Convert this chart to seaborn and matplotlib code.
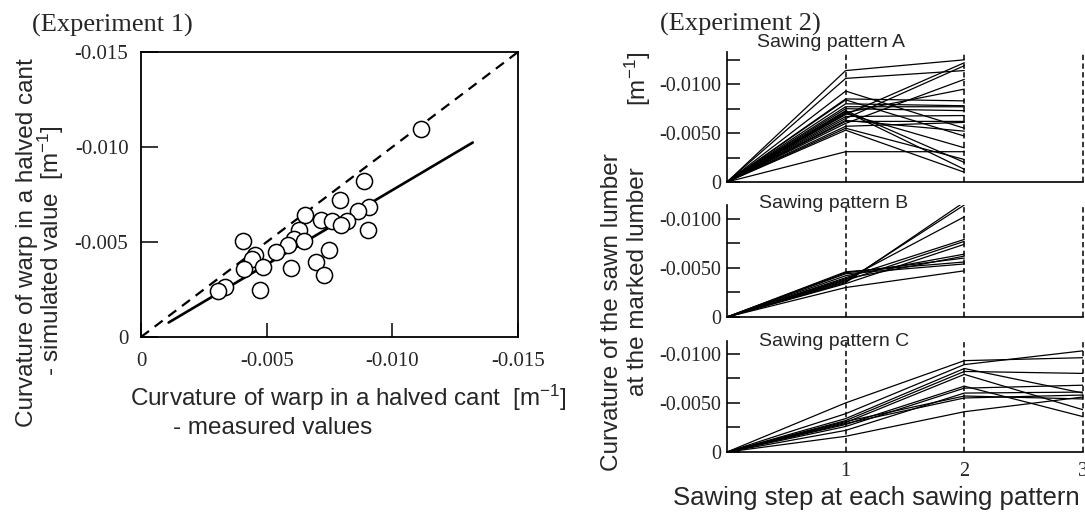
import numpy as np
import pandas as pd
import matplotlib
matplotlib.use("Agg")
import matplotlib.pyplot as plt
import seaborn as sns
from matplotlib.ticker import FixedLocator, FixedFormatter, NullFormatter

# ---------------- Experiment 1 data ----------------
measured = [-0.01116, -0.00889, -0.00791, -0.00906, -0.00862, -0.00653, -0.00717,
            -0.00761, -0.00819, -0.00794, -0.00902, -0.00630, -0.00607, -0.00647,
            -0.00585, -0.00406, -0.00536, -0.00749, -0.00454, -0.00442, -0.00698,
            -0.00486, -0.00595, -0.00409, -0.00727, -0.00335, -0.00306, -0.00472]
simulated = [-0.01096, -0.00819, -0.00721, -0.00686, -0.00663, -0.00642, -0.00616,
             -0.00611, -0.00611, -0.00588, -0.00562, -0.00563, -0.00514, -0.00505,
             -0.00486, -0.00505, -0.00449, -0.00456, -0.00430, -0.00409, -0.00396,
             -0.00370, -0.00365, -0.00356, -0.00326, -0.00265, -0.00242, -0.00246]
fit_slope = 0.783
fit_intercept = 0.0001
fit_x_ends = [-0.0011, -0.0132]
one_to_one = [0.0, -0.015]
exp1_ticks = [0, -0.005, -0.010, -0.015]
exp1_ticklabels = ["0", "-0.005", "-0.010", "-0.015"]

# ---------------- Experiment 2 data ----------------
A_step1 = [-0.0114, -0.0106, -0.0093, -0.0085, -0.0084, -0.0080, -0.0077, -0.0075,
           -0.0073, -0.0071, -0.0069, -0.0067, -0.0063, -0.0060, -0.0057, -0.0055,
           -0.0053, -0.0031, -0.0070, -0.0065, -0.0062, -0.0072]
A_step2 = [-0.0125, -0.0114, -0.0055, -0.0083, -0.0047, -0.0078, -0.0077, -0.0073,
           -0.0020, -0.0095, -0.0122, -0.0068, -0.0052, -0.0105, -0.0061, -0.0023,
           -0.0010, -0.0031, -0.0035, -0.0119, -0.0062, -0.0013]
B_step1 = [-0.0030, -0.0035, -0.0036, -0.0038, -0.0040, -0.0037, -0.0044, -0.0046,
           -0.0042, -0.0039, -0.0045, -0.0034]
B_step2 = [-0.0047, -0.0117, -0.0114, -0.0102, -0.0079, -0.0077, -0.0054, -0.0056,
           -0.0064, -0.0062, -0.0060, -0.0074]
C_step1 = [-0.0050, -0.0039, -0.0034, -0.0032, -0.0030, -0.0028, -0.0026, -0.0022,
           -0.0016, -0.0031, -0.0029]
C_step2 = [-0.0093, -0.0089, -0.0085, -0.0082, -0.0079, -0.0067, -0.0065, -0.0060,
           -0.0041, -0.0057, -0.0055]
C_step3 = [-0.0096, -0.0103, -0.0060, -0.0080, -0.0043, -0.0036, -0.0068, -0.0061,
           -0.0056, -0.0054, -0.0058]
pattern_names = ["Sawing pattern A", "Sawing pattern B", "Sawing pattern C"]
exp2_major = [0, -0.005, -0.010]
exp2_majorlabels = ["0", "-0.0050", "-0.0100"]
exp2_minor = [-0.0025, -0.0075, -0.0125]
exp2_ylims = [-0.0133, -0.0114, -0.0113]
step_ticks = [1, 2, 3]
step_labels = ["1", "2", "3"]

# ---------------- style ----------------
sns.set_style("ticks")
plt.rcParams["font.family"] = ["Liberation Serif", "DejaVu Serif"]
plt.rcParams["axes.unicode_minus"] = False
plt.rcParams["mathtext.fontset"] = "custom"
plt.rcParams["mathtext.rm"] = "Liberation Sans"
plt.rcParams["mathtext.it"] = "Liberation Serif:italic"
plt.rcParams["mathtext.default"] = "regular"

W, H = 1085, 513
fig = plt.figure(figsize=(W / 100, H / 100), dpi=100)
fig.patch.set_facecolor("white")


def rect(l, t, r, b):
    return [l / W, 1 - b / H, (r - l) / W, (b - t) / H]


def fx(px):
    return px / W


def fy(py):
    return 1 - py / H


SANS = "Liberation Sans"
LAB = 17.5

# ---------------- Experiment 1 ----------------
ax = fig.add_axes(rect(141, 52, 518, 337))
ax.set_facecolor("white")
ax.set_xlim(0, -0.015)
ax.set_ylim(0, -0.015)

sns.lineplot(x=one_to_one, y=one_to_one, ax=ax, color="black", lw=1.6,
             linestyle=(0, (4.5, 3.2)), sort=False, clip_on=False)
fit_x = np.array(fit_x_ends)
fit_y = fit_slope * fit_x + fit_intercept
sns.lineplot(x=fit_x, y=fit_y, ax=ax, color="black", lw=1.9, sort=False)
sns.scatterplot(x=measured, y=simulated, ax=ax, s=135, marker="o",
                facecolor="white", edgecolor="black", linewidth=1.1, zorder=5)

ax.xaxis.set_major_locator(FixedLocator(exp1_ticks))
ax.xaxis.set_major_formatter(FixedFormatter(exp1_ticklabels))
ax.yaxis.set_major_locator(FixedLocator(exp1_ticks))
ax.yaxis.set_major_formatter(FixedFormatter(exp1_ticklabels))
ax.tick_params(axis="x", direction="in", length=10, width=1.1, pad=11,
               labelsize=15, color="black")
ax.tick_params(axis="y", direction="in", length=12, width=1.1, pad=9,
               labelsize=15, color="black")
for sp in ax.spines.values():
    sp.set_visible(True)
    sp.set_color("black")
    sp.set_linewidth(1.3)
ax.set_xlabel("")
ax.set_ylabel("")

ax.text(0.0101, -0.0066, r"$\mathit{r}$ = 0.82$^{**}$", fontsize=16,
        ha="left", va="center", family="Liberation Serif")

fig.text(fx(32), fy(25), "(Experiment 1)", fontsize=19, ha="left",
         va="center", family="Liberation Serif")
fig.text(fx(130), fy(398), "Curvature of warp in a halved cant  [m$^{-1}$]",
         fontsize=LAB, ha="left", va="center", family=SANS)
fig.text(fx(173), fy(428), "- measured values", fontsize=LAB, ha="left",
         va="center", family=SANS)
fig.text(fx(27), fy(58), "Curvature of warp in a halved cant", fontsize=LAB,
         rotation=90, ha="center", va="top", family=SANS)
fig.text(fx(51), fy(125), "- simulated value  [m$^{-1}$]", fontsize=LAB,
         rotation=90, ha="center", va="top", family=SANS)

# ---------------- Experiment 2 ----------------
panel_rects = [rect(727, 52, 1083, 182), rect(727, 205, 1083, 317),
               rect(727, 341, 1083, 452)]
panel_data = [[A_step1, A_step2], [B_step1, B_step2],
              [C_step1, C_step2, C_step3]]
title_pos = [(757, 43), (759, 204), (759, 342)]

for i, (rc, series, ylo) in enumerate(zip(panel_rects, panel_data, exp2_ylims)):
    axp = fig.add_axes(rc)
    axp.set_facecolor("none")
    rows = []
    n = len(series[0])
    for b in range(n):
        rows.append({"step": 0, "curv": 0.0, "board": b})
        for s, vals in enumerate(series):
            rows.append({"step": s + 1, "curv": vals[b], "board": b})
    df = pd.DataFrame(rows)
    sns.lineplot(data=df, x="step", y="curv", units="board", estimator=None,
                 color="black", lw=0.9, ax=axp, sort=False, legend=False)
    axp.set_xlim(0, 3)
    axp.set_ylim(0, ylo)
    for xs in step_ticks:
        axp.axvline(xs, color="black", lw=1.1, linestyle=(0, (3.5, 2.2)),
                    clip_on=False, zorder=1)
    axp.yaxis.set_major_locator(FixedLocator(exp2_major))
    axp.yaxis.set_major_formatter(FixedFormatter(exp2_majorlabels))
    axp.yaxis.set_minor_locator(FixedLocator([m for m in exp2_minor if m >= ylo]))
    axp.yaxis.set_minor_formatter(NullFormatter())
    axp.tick_params(axis="y", which="both", direction="in", length=9.5,
                    width=1.1, pad=4, labelsize=14.5, color="black")
    axp.xaxis.set_major_locator(FixedLocator(step_ticks))
    if i == 2:
        axp.xaxis.set_major_formatter(FixedFormatter(step_labels))
    else:
        axp.xaxis.set_major_formatter(NullFormatter())
    axp.tick_params(axis="x", length=0, pad=7, labelsize=14.5)
    for side in ["top", "right"]:
        axp.spines[side].set_visible(False)
    for side in ["left", "bottom"]:
        axp.spines[side].set_color("black")
        axp.spines[side].set_linewidth(1.2)
    axp.set_xlabel("")
    axp.set_ylabel("")
    tx, ty = title_pos[i]
    fig.text(fx(tx), fy(ty), pattern_names[i], fontsize=14, ha="left",
             va="center", family=SANS)

fig.text(fx(660), fy(24), "(Experiment 2)", fontsize=19, ha="left",
         va="center", family="Liberation Serif")
fig.text(fx(612), fy(153), "Curvature of the sawn lumber", fontsize=LAB,
         rotation=90, ha="center", va="top", family=SANS)
fig.text(fx(638), fy(167), "at the marked lumber", fontsize=LAB,
         rotation=90, ha="center", va="top", family=SANS)
fig.text(fx(638), fy(52), "[m$^{-1}$]", fontsize=LAB,
         rotation=90, ha="center", va="top", family=SANS)
fig.text(fx(876), fy(498), "Sawing step at each sawing pattern", fontsize=18.5,
         ha="center", va="center", family=SANS)

fig.savefig("out.png", dpi=100, facecolor="white")
